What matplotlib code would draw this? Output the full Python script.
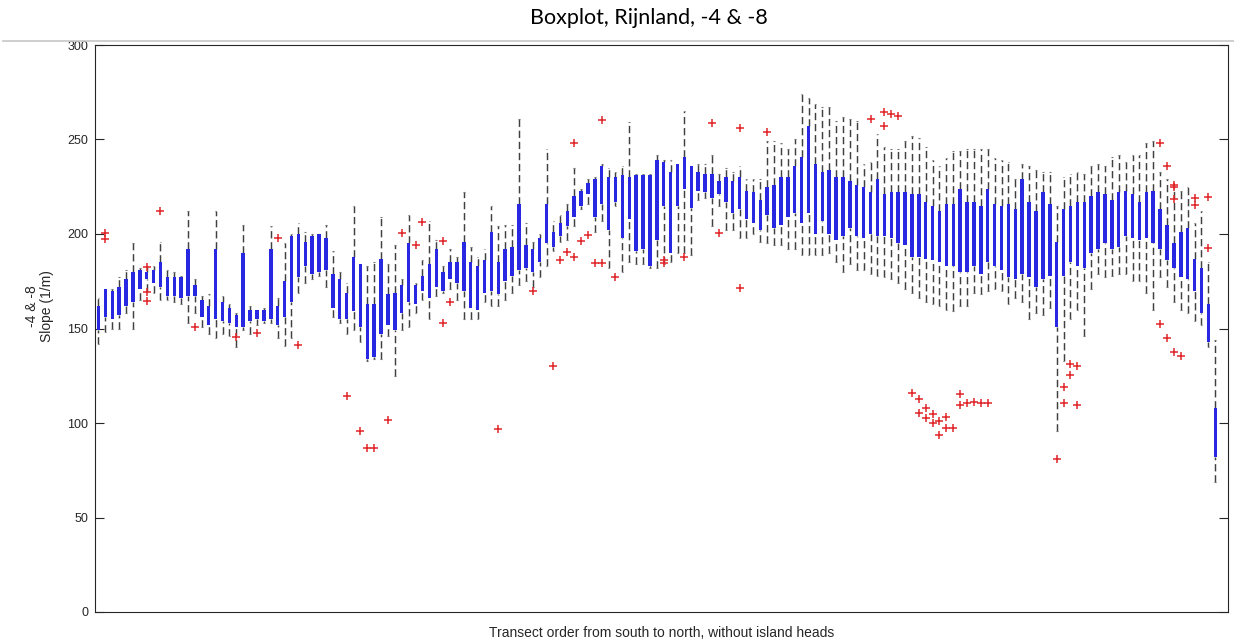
import numpy as np
import matplotlib.pyplot as plt
from matplotlib.lines import Line2D

# box statistics per transect, slope between -4 and -8 m (1/m), south -> north
whisker_low = [142, 148, 150, 150, 158, 150, 165, 170, 169, 165,
               165, 164, 163, 153, 158, 151, 147, 145, 147, 146,
               140, 149, 147, 152, 153, 153, 145, 141, 145, 169,
               174, 176, 178, 172, 156, 153, 147, 149, 143, 133,
               134, 134, 146, 125, 149, 151, 158, 165, 155, 167,
               169, 171, 165, 155, 155, 155, 164, 162, 162, 165,
               169, 173, 175, 172, 177, 183, 191, 196, 197, 204,
               213, 216, 201, 207, 182, 215, 180, 185, 184, 184,
               182, 182, 184, 185, 190, 190, 189, 218, 219, 204,
               215, 202, 202, 198, 198, 200, 196, 195, 194, 194,
               192, 192, 189, 189, 189, 189, 190, 185, 180, 184,
               181, 181, 179, 178, 177, 176, 174, 171, 169, 166,
               164, 163, 162, 160, 159, 162, 162, 169, 168, 170,
               171, 170, 163, 166, 164, 155, 158, 157, 161, 96,
               133, 155, 160, 146, 171, 179, 177, 178, 179, 179,
               175, 175, 169, 160, 177, 172, 164, 160, 158, 154,
               152, 140, 69]
box_low = [149, 156, 155, 157, 162, 164, 171, 176, 174, 172,
           167, 167, 166, 167, 167, 156, 152, 155, 154, 153,
           151, 151, 154, 155, 154, 155, 152, 156, 164, 177,
           183, 179, 180, 181, 161, 155, 155, 159, 151, 134,
           135, 147, 152, 149, 158, 164, 163, 170, 166, 172,
           170, 176, 174, 170, 161, 160, 169, 170, 168, 175,
           178, 181, 182, 180, 185, 195, 193, 199, 204, 209,
           215, 221, 209, 216, 202, 217, 198, 208, 191, 192,
           183, 197, 215, 190, 215, 224, 214, 223, 222, 219,
           221, 217, 211, 213, 208, 206, 202, 210, 203, 205,
           209, 211, 206, 211, 200, 207, 200, 197, 199, 203,
           199, 198, 200, 199, 199, 198, 195, 194, 188, 188,
           187, 186, 185, 183, 183, 180, 180, 183, 179, 185,
           183, 181, 177, 176, 179, 177, 172, 176, 178, 151,
           178, 185, 183, 182, 190, 192, 195, 192, 193, 199,
           198, 197, 198, 195, 192, 186, 182, 177, 176, 170,
           158, 143, 82]
box_high = [162, 171, 170, 172, 176, 180, 181, 180, 181, 185,
            177, 177, 177, 192, 173, 165, 162, 192, 164, 161,
            157, 190, 160, 160, 160, 192, 162, 175, 199, 200,
            196, 199, 200, 198, 179, 176, 169, 188, 184, 163,
            163, 187, 168, 169, 173, 195, 173, 178, 184, 192,
            180, 185, 185, 196, 185, 183, 186, 201, 185, 192,
            193, 216, 194, 192, 198, 216, 201, 206, 212, 220,
            223, 227, 229, 236, 230, 230, 231, 230, 231, 231,
            231, 239, 238, 233, 237, 241, 236, 233, 232, 232,
            228, 230, 228, 230, 223, 222, 218, 225, 226, 230,
            230, 236, 241, 257, 237, 233, 234, 230, 230, 228,
            226, 225, 222, 229, 221, 222, 222, 222, 221, 221,
            217, 215, 212, 216, 216, 224, 217, 217, 215, 224,
            216, 215, 216, 213, 229, 217, 212, 222, 216, 196,
            213, 215, 217, 217, 220, 222, 221, 218, 222, 223,
            221, 217, 222, 223, 213, 205, 195, 201, 203, 187,
            182, 163, 108]
whisker_high = [166, 171, 171, 177, 181, 195, 182, 183, 183, 196,
                181, 180, 178, 212, 176, 167, 168, 212, 167, 163,
                158, 205, 162, 160, 161, 204, 166, 195, 200, 206,
                201, 200, 200, 205, 191, 180, 174, 215, 184, 183,
                185, 209, 184, 194, 176, 210, 174, 186, 207, 197,
                183, 192, 188, 222, 193, 188, 192, 215, 204, 205,
                205, 261, 206, 196, 200, 245, 207, 210, 216, 235,
                224, 229, 230, 237, 235, 233, 236, 259, 232, 232,
                232, 242, 239, 239, 237, 265, 236, 237, 237, 242,
                232, 235, 233, 236, 229, 229, 229, 249, 249, 248,
                245, 250, 274, 272, 269, 267, 267, 260, 262, 261,
                260, 237, 238, 253, 246, 245, 245, 249, 252, 251,
                246, 239, 236, 240, 244, 244, 245, 245, 245, 245,
                240, 239, 238, 229, 237, 236, 234, 233, 233, 215,
                230, 232, 233, 232, 236, 237, 236, 241, 242, 238,
                242, 242, 248, 249, 233, 229, 225, 223, 225, 206,
                212, 185, 144]

outlier_box = [2, 2, 8, 8, 8, 10, 15, 21, 24, 27,
               30, 37, 39, 40, 41, 43, 45, 47, 48, 51,
               51, 52, 59, 64, 67, 68, 69, 70, 70, 71,
               72, 73, 74, 74, 76, 83, 83, 86, 90, 91,
               94, 94, 98, 113, 115, 115, 116, 117, 119, 120,
               120, 121, 121, 122, 122, 123, 123, 124, 124, 125,
               126, 126, 127, 128, 129, 130, 140, 141, 141, 142,
               142, 143, 143, 155, 155, 156, 156, 157, 157, 157,
               157, 158, 160, 160, 162, 162]
outlier_value = [200.5, 197.4, 182.7, 169.3, 164.6, 212.4, 151.0, 145.3, 147.5, 197.9,
                 141.3, 114.3, 96.0, 86.6, 86.6, 101.6, 200.4, 194.2, 206.5, 196.5,
                 153.1, 164.2, 96.7, 170.0, 130.2, 186.3, 190.7, 248.0, 188.0, 196.3,
                 199.5, 184.5, 260.3, 184.5, 177.1, 186.3, 184.5, 188.0, 258.9, 200.7,
                 255.9, 171.3, 253.8, 260.7, 264.7, 257.2, 263.3, 262.6, 115.7, 112.5,
                 105.1, 107.8, 102.5, 104.6, 99.9, 101.3, 93.7, 103.0, 97.2, 97.2,
                 115.4, 109.5, 110.4, 111.3, 110.8, 110.4, 80.8, 118.9, 110.4, 131.2,
                 125.4, 130.2, 109.5, 248.3, 152.2, 236.0, 144.8, 226.0, 225.0, 218.4,
                 137.8, 135.5, 218.9, 215.4, 219.4, 192.4]

y_ticks = [0, 50, 100, 150, 200, 250, 300]

pos = np.arange(1, len(box_low) + 1)
blo = np.array(box_low)
bhi = np.array(box_high)

W, H = 1234, 641
fig = plt.figure(figsize=(W / 100, H / 100), dpi=100)
ax = fig.add_axes([95 / W, 1 - 612 / H, (1228 - 95) / W, (612 - 45) / H])

wcol = '#404040'
dash = (0, (5.0, 2.6))
ax.vlines(pos, bhi, whisker_high, colors=wcol, linewidth=1.05, linestyles=dash, zorder=2)
ax.vlines(pos, whisker_low, blo, colors=wcol, linewidth=1.05, linestyles=dash, zorder=2)
ax.hlines(whisker_high, pos - 0.12, pos + 0.12, colors='#777777', linewidth=0.8, zorder=2)
ax.hlines(whisker_low, pos - 0.12, pos + 0.12, colors='#777777', linewidth=0.8, zorder=2)

ax.bar(pos, bhi - blo, bottom=blo, width=0.5, color='#2828e2', linewidth=0, zorder=3)

ax.plot(outlier_box, outlier_value, linestyle='none', marker='+', color='#e0262a',
        markersize=6, markeredgewidth=1.1, zorder=4)

ax.set_xlim(0.5, 164.85)
ax.set_ylim(0, 300)
ax.set_xticks([])
ax.set_yticks(y_ticks)
ax.tick_params(axis='y', direction='in', length=6.5, width=0.8, right=True,
               labelsize=9, colors='#262626', pad=5)
for lab in ax.get_yticklabels():
    lab.set_family('Liberation Sans')
for sp in ax.spines.values():
    sp.set_color('#262626')
    sp.set_linewidth(0.8)

lab_font = dict(family='Liberation Sans', size=10, color='#262626')
ax.set_xlabel('Transect order from south to north, without island heads', labelpad=10, **lab_font)
ax.set_ylabel('-4 & -8\nSlope (1/m)', linespacing=1.15, **lab_font)
ax.yaxis.set_label_coords(-0.036, 0.54)

fig.text(648.5 / W, 1 - 18 / H, 'Boxplot, Rijnland, -4 & -8', ha='center', va='center',
         family='Lato', fontsize=15.5, color='black')
fig.add_artist(Line2D([3 / W, 1.0], [1 - 41 / H, 1 - 41 / H], color='#c6c6c6', linewidth=1.2))

fig.savefig('out.png', dpi=100)
